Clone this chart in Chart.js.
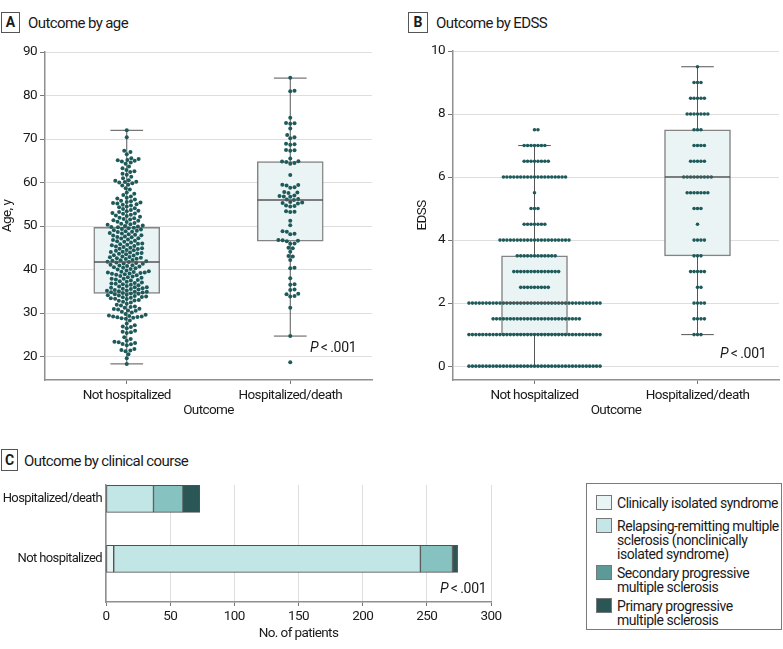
<!DOCTYPE html>
<html>
<head>
<meta charset="utf-8">
<script src="https://cdn.jsdelivr.net/npm/chart.js@4.4.1/dist/chart.umd.min.js"></script>
<style>
  html, body { margin: 0; padding: 0; background: #fff; }
  #fig { position: relative; width: 783px; height: 649px; overflow: hidden;
         font-family: 'Roboto', 'Liberation Sans', sans-serif; color: #1a1a1a; }
  canvas { position: absolute; }
  .tag { position: absolute; box-sizing: border-box; border: 1px solid #555; font-weight: bold;
         font-size: 14px; text-align: center; }
  .ttl { position: absolute; font-size: 15px; line-height: 20px; letter-spacing: -0.6px; white-space: nowrap; }
  .pv { position: absolute; font-size: 14px; line-height: 18px; letter-spacing: -0.3px; white-space: nowrap; }
  .lg { position: absolute; left: 586px; top: 483px; width: 196px; height: 147px;
        box-sizing: border-box; border: 1px solid #7a7a7a; }
  .lg .sw { position: absolute; left: 9px; width: 16px; height: 15px; box-sizing: border-box; border: 1px solid #777; }
  .lg .tx { position: absolute; left: 30px; font-size: 14px; line-height: 14px; letter-spacing: -0.45px; white-space: nowrap; }
</style>
</head>
<body>
<div id="fig">
  <div class="tag" style="left:1px;top:12px;width:19px;height:21px;line-height:19px">A</div>
  <div class="ttl" style="left:28px;top:13px">Outcome by age</div>
  <div class="tag" style="left:408px;top:12px;width:20px;height:21px;line-height:19px">B</div>
  <div class="ttl" style="left:436px;top:13px">Outcome by EDSS</div>
  <div class="tag" style="left:1px;top:449px;width:17px;height:22px;line-height:20px">C</div>
  <div class="ttl" style="left:24px;top:451px">Outcome by clinical course</div>

  <canvas id="chartA" width="390" height="420" style="left:0;top:0"></canvas>
  <canvas id="chartB" width="393" height="420" style="left:390px;top:0"></canvas>
  <canvas id="chartC" width="580" height="209" style="left:0;top:440px"></canvas>

  <div class="pv" style="left:310px;top:338px"><i>P</i>&thinsp;&lt;&thinsp;.001</div>
  <div class="pv" style="left:720px;top:344px"><i>P</i>&thinsp;&lt;&thinsp;.001</div>
  <div class="pv" style="left:440px;top:579px"><i>P</i>&thinsp;&lt;&thinsp;.001</div>

  <div class="lg" id="legendC"></div>
</div>
<script>
// ── Data ─────────────────────────────────────────────────────────────
const OUTCOMES = ['Not hospitalized', 'Hospitalized/death'];

// Panel A: age of each patient, y
const AGE_NOT_HOSP = [
  18.3, 19.6, 20.5, 21.2, 21.4, 21.5, 21.7, 22.6, 22.8, 22.9, 23.1, 23.3, 23.4, 23.6, 24.0, 24.4,
  25.4, 25.6, 25.7, 25.9, 26.5, 26.8, 26.9, 27.2, 27.6, 28.3, 28.7, 28.8, 28.9,
  29.0, 29.1, 29.2, 29.2, 29.3, 29.4, 29.6, 29.8, 30.1, 30.3, 30.5, 30.6, 30.8, 30.9,
  31.0, 31.2, 31.4, 31.5, 31.7, 31.9, 32.1, 32.4, 32.6, 32.8, 32.9,
  33.0, 33.2, 33.3, 33.4, 33.5, 33.6, 33.7, 33.8, 33.9,
  34.0, 34.1, 34.2, 34.3, 34.4, 34.5, 34.6, 34.7, 34.8, 34.9, 34.9,
  35.0, 35.1, 35.2, 35.3, 35.4, 35.5, 35.6, 35.7, 35.8, 35.9, 35.9,
  36.1, 36.2, 36.4, 36.5, 36.6, 36.7, 36.8, 36.9, 37.0, 37.2, 37.3, 37.5, 37.6, 37.7, 37.9, 37.9,
  38.1, 38.2, 38.4, 38.5, 38.7, 38.8, 38.9, 39.0, 39.1, 39.2, 39.3, 39.3, 39.4, 39.5, 39.6, 39.8,
  40.0, 40.1, 40.3, 40.4, 40.5, 40.7, 40.8, 40.9, 41.0, 41.1, 41.3, 41.4, 41.5, 41.6, 41.7, 41.8, 41.9,
  42.0, 42.1, 42.2, 42.4, 42.5, 42.6, 42.7, 42.8, 42.9, 43.0, 43.2, 43.3, 43.5, 43.6, 43.7, 43.8, 43.9,
  44.0, 44.1, 44.3, 44.4, 44.5, 44.7, 44.8, 44.9, 45.0, 45.2, 45.3, 45.4, 45.6, 45.7, 45.8, 45.9,
  46.0, 46.2, 46.4, 46.5, 46.6, 46.8, 46.9, 47.1, 47.2, 47.4, 47.5, 47.6, 47.8, 47.9,
  48.0, 48.1, 48.3, 48.4, 48.6, 48.7, 48.8, 48.9, 49.0, 49.2, 49.3, 49.5, 49.6, 49.7, 49.8, 49.9,
  50.0, 50.1, 50.3, 50.4, 50.5, 50.7, 50.9, 51.0, 51.2, 51.3, 51.5, 51.6, 51.8, 51.9,
  52.1, 52.3, 52.4, 52.6, 52.8, 52.9, 53.0, 53.2, 53.4, 53.5, 53.7, 53.9, 54.1, 54.3, 54.5, 54.7, 54.9,
  55.0, 55.2, 55.3, 55.4, 55.5, 55.7, 55.8, 56.1, 56.3, 56.5, 56.8, 57.1, 57.4, 57.7, 58.4, 58.7,
  59.3, 59.5, 59.8, 60.0, 60.1, 60.2, 60.4, 60.5, 61.0, 61.3, 61.8, 62.0, 62.4, 62.6, 62.9,
  63.3, 63.7, 64.3, 64.6, 64.8, 65.0, 65.1, 65.2, 65.4, 65.6, 66.5, 67.0, 67.3, 70.4, 72.0
];
const AGE_HOSP = [
  84.1, 81.0, 81.1, 74.9, 73.5, 73.6, 73.7, 72.4, 70.9, 70.2, 70.4, 68.7, 68.8, 68.9, 67.3, 67.4, 67.5,
  65.5, 64.7, 64.8, 64.9, 64.3, 64.5, 61.7, 59.3, 59.4, 59.5, 58.8, 58.9, 57.6, 57.7, 57.8,
  56.8, 56.9, 57.0, 56.7, 56.1, 56.2, 56.0, 55.3, 55.4, 55.2, 55.5, 54.6, 54.7, 54.5, 53.3, 53.4, 53.2,
  51.2, 50.2, 48.7, 48.8, 48.2, 48.1, 46.6, 46.7, 46.5, 46.8, 45.9, 46.0, 44.9, 45.0, 44.1, 43.0, 43.1,
  42.2, 40.3, 40.4, 38.0, 36.5, 36.6, 35.3, 35.4, 34.3, 34.4, 33.8, 33.9, 31.2, 24.7, 18.7
];
const AGE_WHISK_LO = [18.3, 24.7];
const AGE_Q1       = [34.5, 46.5];
const AGE_MEDIAN   = [41.7, 56.0];
const AGE_Q3       = [49.7, 64.8];
const AGE_WHISK_HI = [72.0, 84.0];
const AGE_TICKS    = [20, 30, 40, 50, 60, 70, 80, 90];

// Panel B: number of patients at each EDSS score
const EDSS_LEVELS     = [0, 1, 1.5, 2, 2.5, 3, 3.5, 4, 4.5, 5, 5.5, 6, 6.5, 7, 7.5, 8, 8.5, 9, 9.5];
const EDSS_NOT_HOSP_N = [39, 39, 26, 39, 9, 14, 12, 21, 7, 3, 1, 19, 8, 7, 2, 0, 0, 0, 0];
const EDSS_HOSP_N     = [0, 3, 4, 4, 2, 5, 3, 4, 1, 3, 7, 9, 5, 4, 3, 7, 5, 3, 1];
const EDSS_WHISK_LO = [0, 1.0];
const EDSS_Q1       = [1.0, 3.5];
const EDSS_MEDIAN   = [2.0, 6.0];
const EDSS_Q3       = [3.5, 7.5];
const EDSS_WHISK_HI = [7.0, 9.5];
const EDSS_TICKS    = [0, 2, 4, 6, 8, 10];

// Panel C: patients by clinical course
const COURSE_ROWS = ['Hospitalized/death', 'Not hospitalized'];
const COURSES = [
  'Clinically isolated syndrome',
  'Relapsing-remitting multiple sclerosis (nonclinically isolated syndrome)',
  'Secondary progressive multiple sclerosis',
  'Primary progressive multiple sclerosis'
];
const COURSE_LEGEND_LINES = [
  ['Clinically isolated syndrome'],
  ['Relapsing-remitting multiple', 'sclerosis (nonclinically', 'isolated syndrome)'],
  ['Secondary progressive', 'multiple sclerosis'],
  ['Primary progressive', 'multiple sclerosis']
];
const CIS_N  = [0, 6];
const RRMS_N = [37, 239];
const SPMS_N = [23, 25];
const PPMS_N = [13, 4];
const PATIENT_TICKS = [0, 50, 100, 150, 200, 250, 300];

// ── Style ────────────────────────────────────────────────────────────
const C = {
  dot: '#1f5a5a', boxFill: '#eaf4f5', boxEdge: '#848484', whisker: '#555', median: '#555',
  grid: '#dedede', axis: '#8f8f8f', tick: '#777',
  cis: '#e9f4f5', rrms: '#c2e5e5', spms: '#86c2bf', ppms: '#2b5656', barEdge: '#505050',
  legend: ['#e9f4f5', '#c4e6e6', '#5d9a97', '#2b5656']
};
const FONT = "'Roboto', 'Liberation Sans', sans-serif";
const BOX_PX = 66;      // box width, px
const BOX_HALF = 0.2;   // half box width, x units (median line)
const CAP_HALF = 0.1;   // half whisker cap width, x units

Chart.defaults.font.family = FONT;
Chart.defaults.font.size = 13.5;
Chart.defaults.color = '#1a1a1a';
Chart.defaults.animation = false;
Chart.defaults.events = [];
Chart.defaults.plugins.legend.display = false;
Chart.defaults.plugins.tooltip.enabled = false;

// the original uses a condensed face; tighten canvas text a little
Chart.register({
  id: 'condense',
  beforeUpdate(chart) { chart.ctx.letterSpacing = '-0.6px'; },
  beforeDraw(chart) { chart.ctx.letterSpacing = '-0.6px'; },
});

const seg = (pts, color, width, order) => ({
  type: 'line', data: pts, borderColor: color, borderWidth: width,
  pointRadius: 0, fill: false, order
});

/** Beeswarm: shift each point sideways (in pixels) until it no longer overlaps earlier ones. */
function swarm(values, center, chart, d) {
  const xs = chart.scales.x, ys = chart.scales.y;
  const cx = xs.getPixelForValue(center);
  const placed = [];
  return values.slice().sort((a, b) => a - b).map(v => {
    const py = ys.getPixelForValue(v);
    const near = placed.filter(p => Math.abs(p.y - py) < d);
    const cands = [0];
    near.forEach(p => {
      const dx = Math.sqrt(d * d - (p.y - py) ** 2);
      cands.push(p.x + dx, p.x - dx);
    });
    cands.sort((a, b) => Math.abs(a) - Math.abs(b));
    const x = cands.find(c => near.every(p => (p.x - c) ** 2 + (p.y - py) ** 2 >= d * d - 0.01));
    placed.push({ x, y: py });
    return { x: xs.getValueForPixel(cx + x), y: v };
  });
}

function boxSwarm(id, cfg) {
  const datasets = [{
    type: 'bar',
    data: OUTCOMES.map((_, i) => ({ x: i, y: [cfg.q1[i], cfg.q3[i]] })),
    backgroundColor: C.boxFill, borderColor: C.boxEdge, borderWidth: 1.5,
    borderSkipped: false, barThickness: BOX_PX, grouped: false, order: 4,
  }];
  OUTCOMES.forEach((_, i) => {
    datasets.push(seg([{ x: i, y: cfg.lo[i] }, { x: i, y: cfg.q1[i] }], C.whisker, 1, 3));
    datasets.push(seg([{ x: i, y: cfg.q3[i] }, { x: i, y: cfg.hi[i] }], C.whisker, 1, 3));
    datasets.push(seg([{ x: i - CAP_HALF, y: cfg.lo[i] }, { x: i + CAP_HALF, y: cfg.lo[i] }], C.whisker, 1, 3));
    datasets.push(seg([{ x: i - CAP_HALF, y: cfg.hi[i] }, { x: i + CAP_HALF, y: cfg.hi[i] }], C.whisker, 1, 3));
    datasets.push(seg([{ x: i - BOX_HALF, y: cfg.med[i] }, { x: i + BOX_HALF, y: cfg.med[i] }], C.median, 1.5, 0));
  });
  const dotIdx = cfg.values.map((vals, i) => {
    datasets.push({
      type: 'scatter', data: vals.map(v => ({ x: i, y: v })),
      pointRadius: cfg.r, pointBackgroundColor: C.dot, pointBorderWidth: 0, order: 1,
    });
    return datasets.length - 1;
  });

  const chart = new Chart(document.getElementById(id), {
    type: 'scatter',
    data: { datasets },
    options: {
      responsive: false,
      layout: { padding: { top: cfg.padTop, right: cfg.padRight, left: 0, bottom: 0 } },
      scales: {
        x: {
          type: 'linear', min: -0.5, max: 1.5, offset: false,
          afterBuildTicks: s => { s.ticks = OUTCOMES.map((_, i) => ({ value: i })); },
          afterFit: s => { s.height = 40; },
          ticks: { autoSkip: false, maxRotation: 0, padding: 4, callback: v => OUTCOMES[v] },
          grid: { drawOnChartArea: false, tickLength: 4, tickColor: C.tick, offset: false },
          border: { color: C.axis, width: 1.5 },
          title: { display: true, text: 'Outcome', padding: { top: 0, bottom: 1 } },
        },
        y: {
          type: 'linear', min: cfg.yMin, max: cfg.yMax,
          afterBuildTicks: s => { s.ticks = cfg.yTicks.map(v => ({ value: v })); },
          afterFit: s => { s.width = cfg.yWidth; },
          ticks: { padding: 3 },
          grid: { color: C.grid, tickLength: 5, tickColor: C.tick },
          border: { color: C.axis, width: 1.5 },
          title: { display: true, text: cfg.yTitle, padding: { top: cfg.yTitlePad, bottom: 0 } },
        },
      },
    },
  });

  dotIdx.forEach((idx, i) => { chart.data.datasets[idx].data = swarm(cfg.values[i], i, chart, cfg.gap); });
  chart.update('none');
  return chart;
}

const expand = counts => EDSS_LEVELS.flatMap((lv, k) => Array(counts[k]).fill(lv));

boxSwarm('chartA', {
  values: [AGE_NOT_HOSP, AGE_HOSP],
  q1: AGE_Q1, med: AGE_MEDIAN, q3: AGE_Q3, lo: AGE_WHISK_LO, hi: AGE_WHISK_HI,
  yMin: 14.6, yMax: 90, yTicks: AGE_TICKS, yTitle: 'Age, y', yTitlePad: 0, yWidth: 45,
  padTop: 52, padRight: 18, r: 2.0, gap: 4.3,
});

boxSwarm('chartB', {
  values: [expand(EDSS_NOT_HOSP_N), expand(EDSS_HOSP_N)],
  q1: EDSS_Q1, med: EDSS_MEDIAN, q3: EDSS_Q3, lo: EDSS_WHISK_LO, hi: EDSS_WHISK_HI,
  yMin: -0.44, yMax: 10, yTicks: EDSS_TICKS, yTitle: 'EDSS', yTitlePad: 25, yWidth: 63,
  padTop: 51, padRight: 4, r: 1.8, gap: 3.45,
});

// ── Panel C: stacked floating bars ───────────────────────────────────
const courseCounts = [CIS_N, RRMS_N, SPMS_N, PPMS_N];
const courseColors = [C.cis, C.rrms, C.spms, C.ppms];
const runStart = COURSE_ROWS.map(() => 0);
const barSets = courseCounts.map((counts, k) => {
  const data = [];
  counts.forEach((n, i) => {
    if (n > 0) data.push({ y: i, x: [runStart[i], runStart[i] + n] });
    runStart[i] += n;
  });
  return {
    label: COURSES[k], data, backgroundColor: courseColors[k], borderColor: C.barEdge,
    borderWidth: 1, borderSkipped: false, barThickness: 27, grouped: false,
  };
});

new Chart(document.getElementById('chartC'), {
  type: 'bar',
  data: { datasets: barSets },
  options: {
    indexAxis: 'y',
    responsive: false,
    layout: { padding: { top: 45, right: 89, left: 0, bottom: 0 } },
    scales: {
      x: {
        type: 'linear', min: 0, max: 300,
        afterBuildTicks: s => { s.ticks = PATIENT_TICKS.map(v => ({ value: v })); },
        afterFit: s => { s.height = 47; },
        ticks: { padding: 3 },
        grid: { color: C.grid, tickLength: 4, tickColor: C.tick },
        border: { color: C.axis, width: 1.5 },
        title: { display: true, text: 'No. of patients', padding: { top: 0, bottom: 7 } },
      },
      y: {
        type: 'linear', reverse: true, min: -0.23, max: 1.72, offset: false,
        afterBuildTicks: s => { s.ticks = COURSE_ROWS.map((_, i) => ({ value: i })); },
        afterFit: s => { s.width = 106; },
        ticks: { padding: 4, font: { size: 13 }, callback: v => COURSE_ROWS[v] },
        grid: { display: false, drawTicks: false, offset: false },
        border: { color: C.axis, width: 1.5 },
      },
    },
  },
});

// Legend for panel C
const legendTops = [11, 34, 81, 114];
const lg = document.getElementById('legendC');
COURSE_LEGEND_LINES.forEach((lines, k) => {
  const sw = document.createElement('div');
  sw.className = 'sw';
  sw.style.top = legendTops[k] + 'px';
  sw.style.background = C.legend[k];
  lg.appendChild(sw);
  const tx = document.createElement('div');
  tx.className = 'tx';
  tx.style.top = (legendTops[k] + 1) + 'px';
  tx.innerHTML = lines.join('<br>');
  lg.appendChild(tx);
});
</script>
</body>
</html>
